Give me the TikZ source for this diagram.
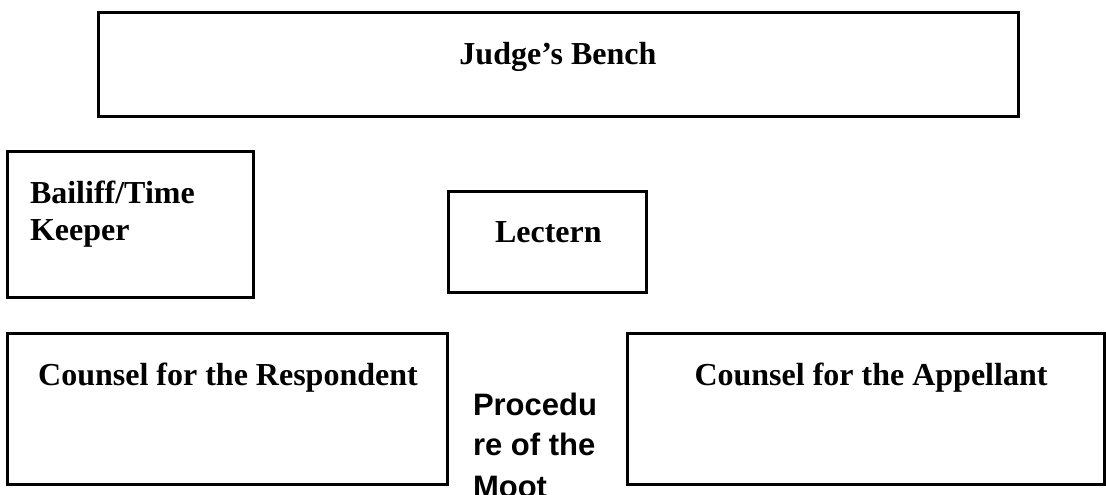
\documentclass[tikz,border=0pt]{standalone}
\usepackage{fontspec}
\setmainfont{Liberation Serif}
\newfontfamily\arialf{Liberation Sans}
\begin{document}
\begin{tikzpicture}[x=1pt,y=-1pt,
  box/.style={draw=black,line width=3pt,inner sep=0pt,outer sep=0pt,rectangle},
  lbl/.style={inner sep=0pt,outer sep=0pt,font=\fontsize{32}{37}\selectfont\bfseries},
  sflbl/.style={inner sep=0pt,outer sep=0pt,font=\arialf\fontsize{31}{38}\selectfont\bfseries,align=left}]
\useasboundingbox (0,0) rectangle (1106,495);
\fill[white] (0,0) rectangle (1106,495);
\node[box,minimum width=920pt,minimum height=103pt] (judge) at (558,64.5) {};
\node[box,minimum width=246pt,minimum height=146pt] (bailiff) at (130,224) {};
\node[box,minimum width=198pt,minimum height=101pt] (lectern) at (547,241.5) {};
\node[box,minimum width=440pt,minimum height=151pt] (resp) at (227,408.5) {};
\node[box,minimum width=477pt,minimum height=151pt] (appel) at (865.5,408.5) {};
\node[lbl,anchor=base] (tjudge) at (558,65) {Judge’s Bench};
\node[lbl,anchor=base west] (tbail1) at (30,203) {Bailiff/Time};
\node[lbl,anchor=base west] (tbail2) at (30,240) {Keeper};
\node[lbl,anchor=base west] (tlect) at (495,242) {Lectern};
\node[lbl,anchor=base] (tresp) at (228,385) {Counsel for the Respondent};
\node[lbl,anchor=base] (tappel) at (871,385) {Counsel for the Appellant};
\node[sflbl,anchor=base west] (tproc1) at (473,415) {Procedu};
\node[sflbl,anchor=base west] (tproc2) at (473,455) {re of the};
\node[sflbl,anchor=base west] (tproc3) at (473,497) {Moot};
\end{tikzpicture}
\end{document}
